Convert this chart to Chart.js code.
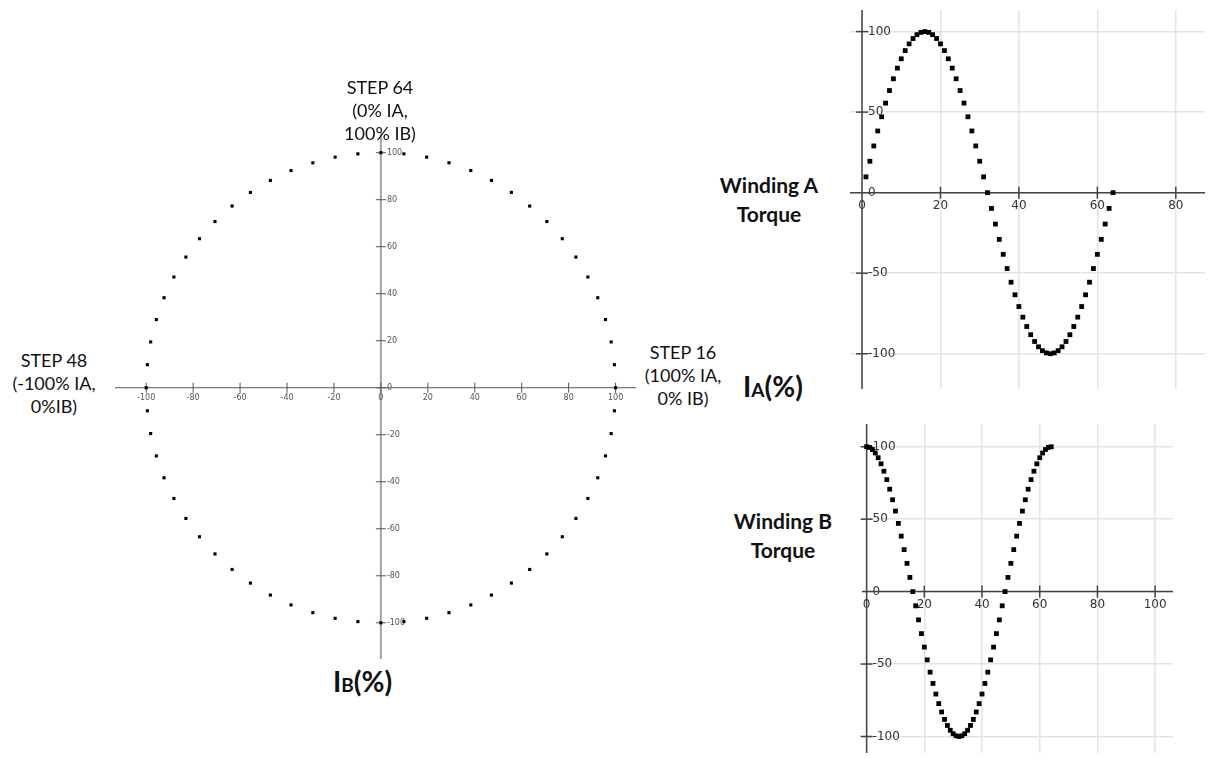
<!DOCTYPE html>
<html>
<head>
<meta charset="utf-8">
<script src="https://cdn.jsdelivr.net/npm/chart.js@4.4.1/dist/chart.umd.min.js"></script>
<style>
  body { margin: 0; width: 1209px; height: 759px; background: #fff; position: relative; overflow: hidden;
         font-family: Lato, "Open Sans", sans-serif; color: #111; }
  canvas { position: absolute; }
  .note { position: absolute; text-align: center; font-size: 18px; line-height: 23px; transform: translateX(-50%); white-space: nowrap; }
  .side { position: absolute; text-align: center; font-weight: bold; font-size: 21px; line-height: 29px; transform: translateX(-50%); white-space: nowrap; }
  .unit { position: absolute; font-weight: bold; font-size: 28px; line-height: 30px; white-space: nowrap; }
  .unit small { font-size: 19px; }
</style>
</head>
<body>

<canvas id="phase" width="529" height="535" style="left:111px; top:128px"></canvas>
<canvas id="windA" width="363" height="387" style="left:846px; top:6px"></canvas>
<canvas id="windB" width="319" height="337" style="left:858px; top:420px"></canvas>

<div class="note" style="left:380px; top:76px">STEP 64<br>(0% IA,<br>100% IB)</div>
<div class="note" style="left:54px; top:349px">STEP 48<br>(-100% IA,<br>0%IB)</div>
<div class="note" style="left:683px; top:341px">STEP 16<br>(100% IA,<br>0% IB)</div>

<div class="side" style="left:769px; top:170px">Winding A<br>Torque</div>
<div class="side" style="left:783px; top:506px">Winding B<br>Torque</div>

<div class="unit" style="left:743px; top:371px">I<small>A</small>(%)</div>
<div class="unit" style="left:333px; top:666px">I<small>B</small>(%)</div>

<script>
// full-step sequence, one electrical cycle
const steps = [0, 1, 2, 3, 4, 5, 6, 7, 8, 9, 10, 11, 12, 13, 14, 15, 16,
  17, 18, 19, 20, 21, 22, 23, 24, 25, 26, 27, 28, 29, 30, 31, 32,
  33, 34, 35, 36, 37, 38, 39, 40, 41, 42, 43, 44, 45, 46, 47, 48,
  49, 50, 51, 52, 53, 54, 55, 56, 57, 58, 59, 60, 61, 62, 63, 64];

// winding A current, % of full scale
const windingA = [0, 9.8, 19.5, 29.0, 38.3, 47.1, 55.6, 63.4, 70.7, 77.3, 83.1, 88.2, 92.4, 95.7, 98.1, 99.5, 100,
  99.5, 98.1, 95.7, 92.4, 88.2, 83.1, 77.3, 70.7, 63.4, 55.6, 47.1, 38.3, 29.0, 19.5, 9.8, 0,
  -9.8, -19.5, -29.0, -38.3, -47.1, -55.6, -63.4, -70.7, -77.3, -83.1, -88.2, -92.4, -95.7, -98.1, -99.5, -100,
  -99.5, -98.1, -95.7, -92.4, -88.2, -83.1, -77.3, -70.7, -63.4, -55.6, -47.1, -38.3, -29.0, -19.5, -9.8, 0];

// winding B current, % of full scale
const windingB = [100, 99.5, 98.1, 95.7, 92.4, 88.2, 83.1, 77.3, 70.7, 63.4, 55.6, 47.1, 38.3, 29.0, 19.5, 9.8, 0,
  -9.8, -19.5, -29.0, -38.3, -47.1, -55.6, -63.4, -70.7, -77.3, -83.1, -88.2, -92.4, -95.7, -98.1, -99.5, -100,
  -99.5, -98.1, -95.7, -92.4, -88.2, -83.1, -77.3, -70.7, -63.4, -55.6, -47.1, -38.3, -29.0, -19.5, -9.8, 0,
  9.8, 19.5, 29.0, 38.3, 47.1, 55.6, 63.4, 70.7, 77.3, 83.1, 88.2, 92.4, 95.7, 98.1, 99.5, 100];

// tick labels
const phaseTicks = [-100, -80, -60, -40, -20, 0, 20, 40, 60, 80, 100];
const windAxTicks = [0, 20, 40, 60, 80];
const windBxTicks = [0, 20, 40, 60, 80, 100];
const torqueTicks = [-100, -50, 0, 50, 100];

// axes drawn through the origin, with crossing tick marks
const originAxes = {
  id: 'originAxes',
  beforeDatasetsDraw(chart, args, o) {
    const {ctx, chartArea: a, scales: {x, y}} = chart;
    const x0 = x.getPixelForValue(0);
    const y0 = y.getPixelForValue(0);
    const seg = (x1, y1, x2, y2) => { ctx.beginPath(); ctx.moveTo(x1, y1); ctx.lineTo(x2, y2); ctx.stroke(); };
    ctx.save();
    ctx.lineWidth = o.xAxisWidth; ctx.strokeStyle = o.xAxisColor;
    seg(a.left, y0, a.right, y0);
    ctx.lineWidth = o.yAxisWidth; ctx.strokeStyle = o.yAxisColor;
    seg(x0, a.top, x0, a.bottom);

    ctx.lineWidth = o.tickWidth; ctx.strokeStyle = o.tickColor;
    ctx.font = o.font; ctx.fillStyle = o.labelColor;
    ctx.textAlign = 'center'; ctx.textBaseline = 'top';
    o.xTicks.forEach(v => {
      const px = x.getPixelForValue(v);
      if (v !== 0 || o.crossZero) seg(px, y0 - o.tickLen, px, y0 + o.tickLen);
      ctx.fillText(String(v), px, y0 + o.xGap);
    });
    ctx.textAlign = 'left'; ctx.textBaseline = 'middle';
    o.yTicks.forEach(v => {
      const py = y.getPixelForValue(v);
      if (v !== 0 || o.crossZero) seg(x0 - o.tickLen, py, x0 + o.tickLen, py);
      ctx.fillText(String(v), x0 + o.yGap, py);
    });
    ctx.restore();
  }
};

function makeChart(id, points, cfg) {
  const setTicks = list => scale => { scale.ticks = list.map(v => ({value: v})); };
  return new Chart(document.getElementById(id), {
    type: 'scatter',
    data: {
      datasets: [{
        data: points,
        pointStyle: 'rect',
        pointRadius: cfg.radius,
        backgroundColor: '#000',
        borderWidth: 0
      }]
    },
    options: {
      responsive: false,
      animation: false,
      devicePixelRatio: 1,
      layout: { padding: 0 },
      clip: false,
      events: [],
      plugins: {
        legend: { display: false },
        tooltip: { enabled: false },
        originAxes: cfg.axes
      },
      scales: {
        x: {
          type: 'linear', min: cfg.xMin, max: cfg.xMax,
          afterBuildTicks: setTicks(cfg.axes.xTicks),
          ticks: { display: false },
          border: { display: false },
          grid: { display: cfg.grid, drawTicks: false, color: '#e4e4e4', lineWidth: 1.5 }
        },
        y: {
          type: 'linear', min: cfg.yMin, max: cfg.yMax,
          afterBuildTicks: setTicks(cfg.axes.yTicks),
          ticks: { display: false },
          border: { display: false },
          grid: { display: cfg.grid, drawTicks: false, color: '#e4e4e4', lineWidth: 1.5 }
        }
      }
    },
    plugins: [originAxes]
  });
}

// phase diagram: IA across, IB up, steps 1..64
const phasePoints = steps.slice(1).map(s => ({x: windingA[s], y: windingB[s]}));
makeChart('phase', phasePoints, {
  radius: 2.2, grid: false,
  xMin: -113.3, xMax: 108.7, yMin: -115.4, yMax: 108.8,
  axes: {
    xTicks: phaseTicks, yTicks: phaseTicks, crossZero: true,
    xAxisColor: '#555', xAxisWidth: 1, yAxisColor: '#a3a3a3', yAxisWidth: 2,
    tickColor: '#555', tickWidth: 1, tickLen: 5,
    font: '8px "DejaVu Sans"', labelColor: '#555', xGap: 6, yGap: 6
  }
});

const torqueAxes = {
  yTicks: torqueTicks, crossZero: false,
  xAxisColor: '#444', xAxisWidth: 1.5, yAxisColor: '#444', yAxisWidth: 1.5,
  tickColor: '#444', tickWidth: 1.5, tickLen: 6,
  font: '12px "DejaVu Sans"', labelColor: '#333', xGap: 7, yGap: 6
};

// winding A trace starts at step 1
makeChart('windA', steps.slice(1).map(s => ({x: s, y: windingA[s]})), {
  radius: 3.4, grid: true,
  xMin: -3.07, xMax: 87.45, yMin: -121.9, yMax: 113.4,
  axes: Object.assign({xTicks: windAxTicks}, torqueAxes)
});

makeChart('windB', steps.map(s => ({x: s, y: windingB[s]})), {
  radius: 3.4, grid: true,
  xMin: -1.6, xMax: 106.2, yMin: -111.4, yMax: 115.7,
  axes: Object.assign({xTicks: windBxTicks}, torqueAxes)
});
</script>
</body>
</html>
